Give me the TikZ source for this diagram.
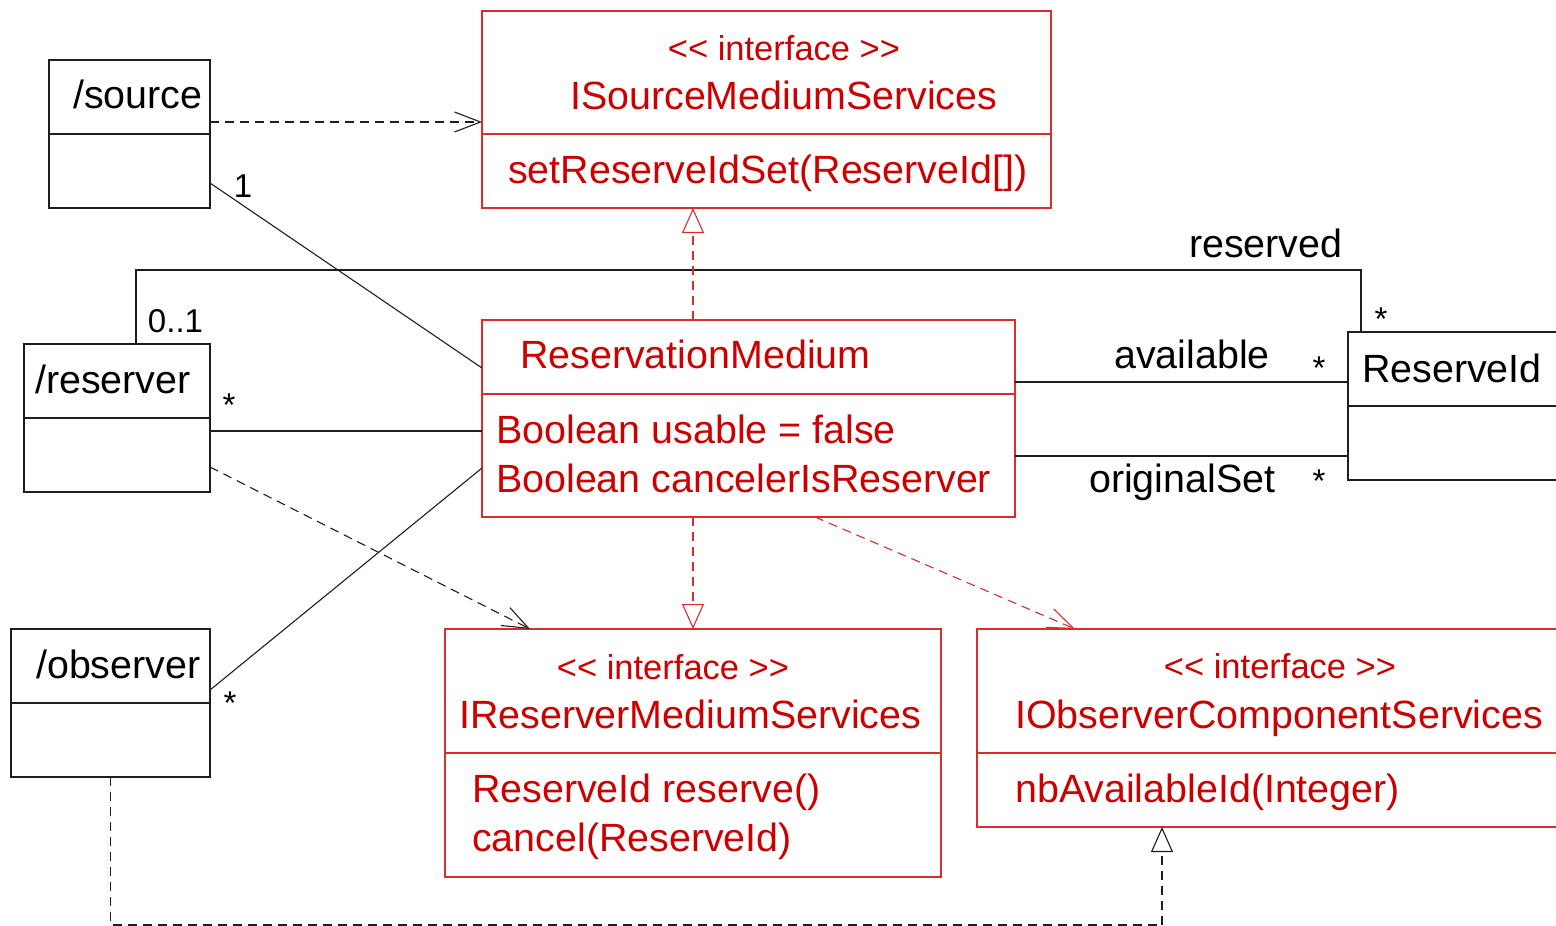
\documentclass[tikz,border=0pt]{standalone}
\usepackage{fontspec}
\setmainfont{Liberation Sans}
\usetikzlibrary{arrows.meta,calc}
\definecolor{umlred}{RGB}{204,0,0}
\definecolor{umlredline}{RGB}{218,45,45}
\definecolor{umlink}{RGB}{30,30,30}
\newcommand\umlbig{\fontsize{39.4}{47}\selectfont}
\newcommand\umlst{\fontsize{34.5}{41}\selectfont}
\newcommand\umlmult{\fontsize{33}{40}\selectfont}
\newcommand\umlstereo{<{}< interface >{}>}
\begin{document}
\begin{tikzpicture}[x=1pt,y=-1pt,
  box/.style={draw, line width=1.5pt, inner sep=0pt, outer sep=0pt, anchor=north west},
  blackbox/.style={box, draw=umlink},
  redbox/.style={box, draw=umlredline},
  divb/.style={draw=umlink, line width=1.5pt},
  divr/.style={draw=umlredline, line width=1.5pt},
  lbl/.style={inner sep=0pt, anchor=base west, font=\umlbig, text=black},
  rlbl/.style={lbl, text=umlred},
  stereo/.style={inner sep=0pt, anchor=base, font=\umlst, text=umlred},
  mult/.style={inner sep=0pt, anchor=base, font=\umlmult, text=black},
  assoc/.style={draw=umlink, line width=1.1pt},
  dep/.style={assoc, dash pattern=on 9pt off 6pt, -{Straight Barb[length=26pt,width=20pt]}},
  rdep/.style={dep, draw=umlredline},
  real/.style={assoc, dash pattern=on 9pt off 6pt, -{Triangle[open, fill=white, length=25pt, width=22pt]}},
  rreal/.style={real, draw=umlredline}
]
\useasboundingbox (0,0) rectangle (1556,926);
\clip (0,0) rectangle (1556,926);

% ---------- boxes ----------
\node[blackbox, minimum width=161pt, minimum height=148pt] (src) at (49,60) {};
\node[blackbox, minimum width=186pt, minimum height=148pt] (rsv) at (24,344) {};
\node[blackbox, minimum width=199pt, minimum height=148pt] (obs) at (11,629) {};
\node[blackbox, minimum width=260pt, minimum height=148pt] (rid) at (1348,332) {};
\node[redbox, minimum width=569pt, minimum height=197pt] (isms) at (482,11) {};
\node[redbox, minimum width=533pt, minimum height=197pt] (rm) at (482,320) {};
\node[redbox, minimum width=496pt, minimum height=248pt] (irm) at (445,629) {};
\node[redbox, minimum width=650pt, minimum height=198pt] (ioc) at (977,629) {};

% ---------- dividers ----------
\draw[divb] (src.west |- 0,134) -- (src.east |- 0,134);
\draw[divb] (rsv.west |- 0,418) -- (rsv.east |- 0,418);
\draw[divb] (obs.west |- 0,703) -- (obs.east |- 0,703);
\draw[divb] (rid.west |- 0,406) -- (rid.east |- 0,406);
\draw[divr] (isms.west |- 0,134) -- (isms.east |- 0,134);
\draw[divr] (rm.west |- 0,394) -- (rm.east |- 0,394);
\draw[divr] (irm.west |- 0,753) -- (irm.east |- 0,753);
\draw[divr] (ioc.west |- 0,753) -- (ioc.east |- 0,753);

% ---------- texts ----------
\node[lbl] (tsrc) at (73,108) {/source};
\node[lbl] (trsv) at (35,393) {/reserver};
\node[lbl] (tobs) at (36,678) {/observer};
\node[lbl] (trid) at (1362,382) {ReserveId};

\node[stereo] (sisms) at (784,60) {\umlstereo};
\node[rlbl] (tisms) at (570,109) {ISourceMediumServices};
\node[rlbl] (oisms) at (508,183) {setReserveIdSet(ReserveId[])};

\node[rlbl] (trm) at (520,368) {ReservationMedium};
\node[rlbl] (arm1) at (496,443) {Boolean usable = false};
\node[rlbl] (arm2) at (496,492) {Boolean cancelerIsReserver};

\node[stereo] (sirm) at (673,679) {\umlstereo};
\node[rlbl] (tirm) at (459,728) {IReserverMediumServices};
\node[rlbl] (oirm1) at (472,802) {ReserveId reserve()};
\node[rlbl] (oirm2) at (472,851) {cancel(ReserveId)};

\node[stereo] (sioc) at (1280,678) {\umlstereo};
\node[rlbl] (tioc) at (1015,728) {IObserverComponentServices};
\node[rlbl] (oioc) at (1015,802) {nbAvailableId(Integer)};

% ---------- associations ----------
\draw[assoc] (src.east |- 0,183) -- (rm.west |- 0,368);
\draw[assoc] (rsv.east |- 0,431) -- (rm.west |- 0,431);
\draw[assoc] (obs.east |- 0,690) -- (rm.west |- 0,468);
\draw[assoc] (136,0 |- rsv.north) -- (136,270) -- (1361,270) -- (1361,0 |- rid.north);
\draw[assoc] (rm.east |- 0,382) -- (rid.west |- 0,382);
\draw[assoc] (rm.east |- 0,456) -- (rid.west |- 0,456);

% association labels
\node[mult] (m1) at (243,197) {1};
\node[mult] (m01) at (175.5,332) {0..1};
\node[mult] (mrsv) at (229,416) {*};
\node[mult] (mobs) at (230,714) {*};
\node[mult] (mres) at (1381,330) {*};
\node[mult] (mav) at (1319,379) {*};
\node[mult] (mos) at (1319,492) {*};
\node[lbl] (lres) at (1189,257) {reserved};
\node[lbl] (lav) at (1114,368) {available};
\node[lbl] (los) at (1089,492) {originalSet};

% ---------- dependencies / realizations ----------
\draw[dep] (src.east |- 0,122) -- (isms.west |- 0,122);
\draw[dep] (rsv.east |- 0,467) -- (irm.north -| 530,0);
\draw[rreal] (rm.north -| 693,0) -- (isms.south -| 693,0);
\draw[rreal] (rm.south -| 693,0) -- (irm.north -| 693,0);
\draw[rdep] (rm.south -| 815,0) -- (ioc.north -| 1075,0);
\draw[real] (obs.south) -- (obs.south |- 0,925) -- (1162,925) -- (ioc.south -| 1162,0);
\end{tikzpicture}
\end{document}
